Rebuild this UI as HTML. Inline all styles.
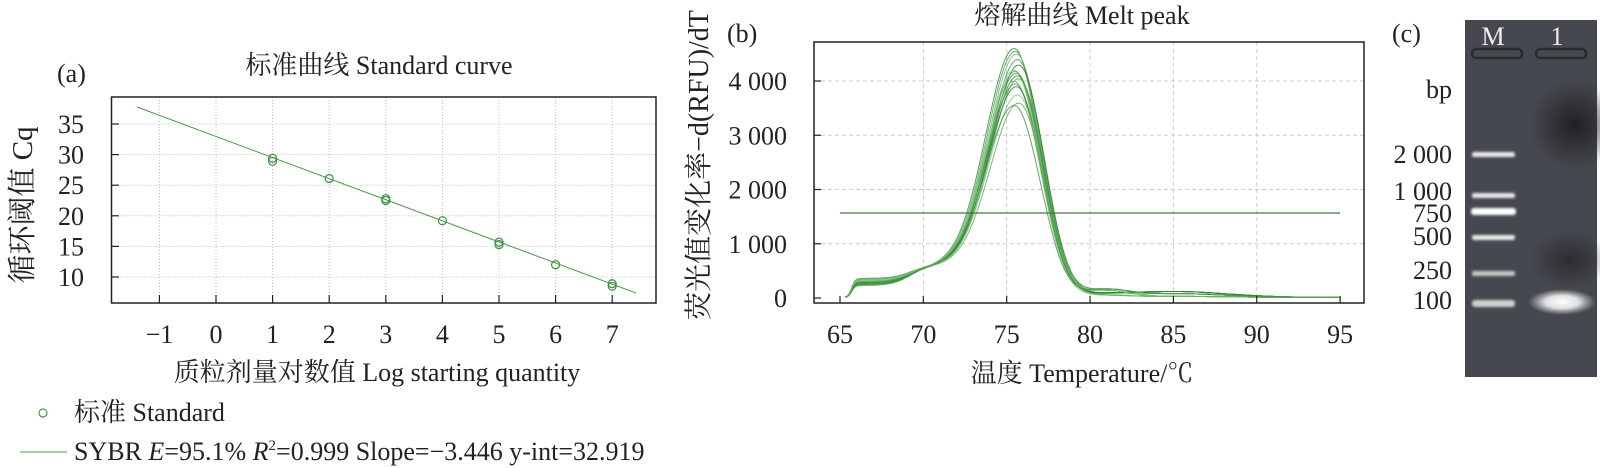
<!DOCTYPE html>
<html><head><meta charset="utf-8"><style>
html,body{margin:0;padding:0;background:#fff}
svg{display:block}
text{font-family:"Liberation Serif","Noto Serif CJK SC",serif;fill:#222}
</style></head><body>
<svg id="s" width="1600" height="468" viewBox="0 0 1600 468" xmlns="http://www.w3.org/2000/svg">
<defs>
<radialGradient id="blob" cx="50%" cy="50%" r="50%"><stop offset="0" stop-color="#1c1d20" stop-opacity="0.9"/><stop offset="1" stop-color="#1c1d20" stop-opacity="0"/></radialGradient>
<radialGradient id="glow" cx="50%" cy="50%" r="50%"><stop offset="0" stop-color="#fff"/><stop offset="0.5" stop-color="#f0f0f0" stop-opacity="0.9"/><stop offset="1" stop-color="#ccc" stop-opacity="0"/></radialGradient>
<filter id="bl"><feGaussianBlur stdDeviation="1.2"/></filter>
</defs>
<!-- Panel a -->
<text x="57" y="82" font-size="26">(a)</text>
<text x="379" y="74" font-size="26" text-anchor="middle">标准曲线 Standard curve</text>
<g id="agrid" stroke="#bbb" stroke-width="1" stroke-dasharray="1,2"></g>
<rect x="111.5" y="97" width="544.5" height="206" fill="none" stroke="#222" stroke-width="1.5"/>
<g id="aticks" stroke="#222" stroke-width="1.2"></g>
<line x1="137" y1="107" x2="636" y2="293" stroke="#4a9a4a" stroke-width="1"/>
<g id="apts" fill="none" stroke="#3f8f3f" stroke-width="1.2"></g>
<g id="alab" font-size="26"></g>
<text transform="translate(32,205) rotate(-90)" font-size="29" text-anchor="middle">循环阈值 Cq</text>
<text x="377" y="381" font-size="26" text-anchor="middle">质粒剂量对数值 Log starting quantity</text>
<circle cx="43" cy="413" r="4" fill="none" stroke="#4a9a4a" stroke-width="1.2"/>
<text x="74" y="421" font-size="26">标准 Standard</text>
<line x1="20" y1="452" x2="67" y2="452" stroke="#4a9a4a" stroke-width="1"/>
<text x="74" y="460" font-size="26">SYBR <tspan font-style="italic">E</tspan>=95.1% <tspan font-style="italic">R</tspan><tspan font-size="15" dy="-10">2</tspan><tspan dy="10">=0.999 Slope=−3.446 y-int=32.919</tspan></text>

<!-- Panel b -->
<text x="727" y="42" font-size="26">(b)</text>
<text x="1082" y="24" font-size="26" text-anchor="middle">熔解曲线 Melt peak</text>
<g id="bgrid" stroke="#ccc" stroke-width="1" stroke-dasharray="4,3"></g>
<g id="bcurves" fill="none" stroke-width="1"></g>
<line x1="840" y1="213" x2="1340" y2="213" stroke="#3d7a3d" stroke-width="1.2"/>
<rect x="814" y="42" width="550" height="261" fill="none" stroke="#222" stroke-width="1.5"/>
<g id="bticks" stroke="#222" stroke-width="1.2"></g>
<g id="blab" font-size="26"></g>
<text transform="translate(708,165) rotate(-90)" font-size="28" text-anchor="middle">荧光值变化率−d(RFU)/dT</text>
<text x="1082" y="382" font-size="26" text-anchor="middle">温度 Temperature/℃</text>

<!-- Panel c -->
<text x="1392" y="42" font-size="26">(c)</text>
<rect x="1465" y="20" width="132" height="357" fill="#45484e"/>
<ellipse cx="1575" cy="125" rx="45" ry="45" fill="url(#blob)"/>
<ellipse cx="1570" cy="260" rx="40" ry="30" fill="url(#blob)" opacity="0.7"/>
<rect x="1472" y="49" width="50" height="9" rx="4" fill="none" stroke="#2a2b2e" stroke-width="2.5"/>
<rect x="1536" y="49" width="50" height="9" rx="4" fill="none" stroke="#2a2b2e" stroke-width="2.5"/>
<g fill="#e8e8e8" filter="url(#bl)">
<rect x="1472" y="152" width="43" height="5" rx="2"/>
<rect x="1472" y="193" width="43" height="5" rx="2"/>
<rect x="1471" y="208" width="45" height="7" rx="3" fill="#fff"/>
<rect x="1472" y="235" width="43" height="5" rx="2"/>
<rect x="1472" y="271" width="43" height="5" rx="2" fill="#c8c8c8"/>
<rect x="1472" y="300" width="43" height="7" rx="3" fill="#cfcfcf"/>
</g>
<ellipse cx="1562" cy="302" rx="34" ry="13" fill="url(#glow)"/>
<text x="1493" y="45" font-size="26" text-anchor="middle" style="fill:#eee">M</text>
<text x="1557" y="45" font-size="26" text-anchor="middle" style="fill:#eee">1</text>
<g font-size="26" text-anchor="end">
<text x="1452" y="98">bp</text>
<text x="1452" y="163">2 000</text>
<text x="1452" y="200">1 000</text>
<text x="1452" y="222">750</text>
<text x="1452" y="245">500</text>
<text x="1452" y="279">250</text>
<text x="1452" y="309">100</text>
</g>
</svg>
<script>
var NS="http://www.w3.org/2000/svg";
function el(p,t,a,txt){var e=document.createElementNS(NS,t);for(var k in a)e.setAttribute(k,a[k]);if(txt!=null)e.textContent=txt;document.getElementById(p).appendChild(e);return e;}
function ax(x){return 216+x*56.6;} function ay(c){return 277-(c-10)*6.12;}
for(var i=-1;i<=7;i++){var X=ax(i);el('agrid','line',{x1:X,y1:97,x2:X,y2:303});el('aticks','line',{x1:X,y1:303,x2:X,y2:295});el('alab','text',{x:X,y:343,'text-anchor':'middle'},i<0?'−1':String(i));}
for(var c=10;c<=35;c+=5){var Y=ay(c);el('agrid','line',{x1:111.5,y1:Y,x2:656,y2:Y});el('aticks','line',{x1:111.5,y1:Y,x2:119,y2:Y});el('alab','text',{x:84,y:Y+9,'text-anchor':'end'},String(c));}
var pts=[[1,29.4],[1,28.9],[2,26.1],[3,22.8],[3,22.5],[4,19.2],[5,15.7],[5,15.3],[6,12.0],[7,8.9],[7,8.5]];
pts.forEach(function(p){el('apts','circle',{cx:ax(p[0]),cy:ay(p[1]),r:4});});
function bx(t){return 840+(t-65)*16.67;} function by(v){return 298-v*0.05425;}
[70,75,80,85,90].forEach(function(t){el('bgrid','line',{x1:bx(t),y1:42,x2:bx(t),y2:303});});
[1000,2000,3000,4000].forEach(function(v){el('bgrid','line',{x1:814,y1:by(v),x2:1364,y2:by(v)});});
for(var t=65;t<=95;t+=5){el('bticks','line',{x1:bx(t),y1:303,x2:bx(t),y2:296});el('blab','text',{x:bx(t),y:343,'text-anchor':'middle'},String(t));}
[0,1000,2000,3000,4000].forEach(function(v){el('bticks','line',{x1:814,y1:by(v),x2:821,y2:by(v)});el('blab','text',{x:787,y:by(v)+9,'text-anchor':'end'},v==0?'0':(v/1000)+' 000');});
var amps=[4500,4450,4400,4300,4200,4100,4080,4050,4000,3950,3900,3850,3800,3650,3500,3450];
var cols=['#3d8f3d','#5aa55a','#7bbb7b','#4b9a4b','#2f7f2f','#8cc48c','#5faf5f','#469646'];
amps.forEach(function(A,k){
 var sh=220+((k*37)%130), tail=(k%4==0)?110:(k%3==0?70:20), pk=75.6+((k%5)-2)*0.07, d='';
 var Ap=A-480;
 for(var T=65.3;T<=95.0001;T+=0.12){
  var s=T<pk?1.7:1.45;
  var v=Ap*Math.exp(-Math.pow((T-pk)/s,2)/2);
  var rise=1/(1+Math.exp(-(T-65.7)/0.1));
  var shoulder=sh*rise+(580-sh)/(1+Math.exp(-(T-69.2)/0.55));
  shoulder*=1/(1+Math.exp((T-77.8)/0.6));
  var tl=tail*Math.exp(-Math.pow((T-85)/3.2,2)/2)+(k%2?120:30)*Math.exp(-Math.pow((T-81)/1.3,2)/2)+10;
  var val=v+shoulder+tl;
  d+=(d?'L':'M')+bx(T).toFixed(1)+','+by(val).toFixed(1);
 }
 el('bcurves','path',{d:d,stroke:cols[k%cols.length],'stroke-opacity':0.85});
});
</script>
</body></html>
